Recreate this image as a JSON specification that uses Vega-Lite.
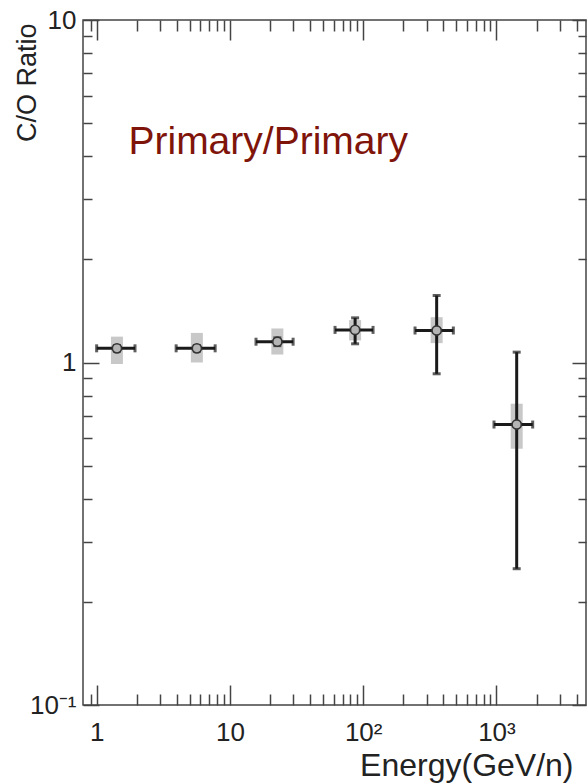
{
  "$schema": "https://vega.github.io/schema/vega-lite/v6.json",
  "width": 503,
  "height": 685,
  "autosize": "none",
  "padding": {"left": 83, "top": 20, "right": 2, "bottom": 79},
  "config": {
    "font": "Liberation Sans",
    "view": {"stroke": "#444444", "strokeWidth": 1.5},
    "axis": {"grid": false, "domain": false, "tickColor": "#444444", "tickWidth": 1.5, "labelColor": "#222222", "titleColor": "#222222", "labelFontSize": 26, "titleFontSize": 30, "titleFontWeight": "normal"}
  },
  "data": {"values": [
    {"E": 1.42, "R": 1.10, "Elo": 1.0, "Ehi": 1.94, "Rlo": 1.08, "Rhi": 1.12, "Slo": 0.99, "Shi": 1.19},
    {"E": 5.65, "R": 1.10, "Elo": 3.95, "Ehi": 7.75, "Rlo": 1.08, "Rhi": 1.12, "Slo": 1.0, "Shi": 1.22},
    {"E": 22.7, "R": 1.15, "Elo": 15.7, "Ehi": 29.8, "Rlo": 1.12, "Rhi": 1.18, "Slo": 1.055, "Shi": 1.257},
    {"E": 87, "R": 1.245, "Elo": 61.5, "Ehi": 118.6, "Rlo": 1.134, "Rhi": 1.35, "Slo": 1.16, "Shi": 1.33},
    {"E": 356, "R": 1.24, "Elo": 245, "Ehi": 475, "Rlo": 0.927, "Rhi": 1.569, "Slo": 1.139, "Shi": 1.356},
    {"E": 1419, "R": 0.659, "Elo": 959, "Ehi": 1871, "Rlo": 0.25, "Rhi": 1.072, "Slo": 0.56, "Shi": 0.758}
  ]},
  "layer": [
    {
      "mark": {"type": "rule", "strokeWidth": 12, "color": "#c8c8c8"},
      "encoding": {
        "x": {"field": "E", "type": "quantitative", "scale": {"type": "log", "domain": [0.79, 4700], "nice": false},
          "axis": {"orient": "bottom", "values": [1, 10, 100, 1000], "ticks": false, "labelPadding": 14,
            "labelExpr": "datum.value < 5 ? '1' : datum.value < 50 ? '10' : datum.value < 500 ? '10²' : '10³'",
            "title": "Energy(GeV/n)", "titleFontSize": 32, "titleX": 490, "titleY": 70, "titleAlign": "right", "titleBaseline": "alphabetic"}},
        "y": {"field": "Slo", "type": "quantitative", "scale": {"type": "log", "domain": [0.1, 10], "nice": false},
          "axis": {"orient": "left", "values": [0.1, 1, 10], "ticks": false, "labelPadding": 7,
            "labelExpr": "datum.value < 0.5 ? '10⁻¹' : datum.value < 5 ? '1' : '10'",
            "title": "C/O Ratio", "titleFontSize": 27, "titleX": -48, "titleY": 3, "titleAngle": -90, "titleAlign": "right", "titleBaseline": "alphabetic"}},
        "y2": {"field": "Shi"}
      }
    },
    {
      "mark": {"type": "rule", "strokeWidth": 3, "color": "#1a1a1a"},
      "encoding": {
        "x": {"field": "E", "type": "quantitative", "scale": {"type": "log", "domain": [0.79, 4700], "nice": false},
          "axis": {"orient": "bottom", "values": [1, 10, 100, 1000], "tickSize": -20, "labels": false, "title": null}},
        "y": {"field": "Rlo", "type": "quantitative", "scale": {"type": "log", "domain": [0.1, 10], "nice": false},
          "axis": {"orient": "left", "values": [0.1, 1, 10], "tickSize": -16, "labels": false, "title": null}},
        "y2": {"field": "Rhi"}
      }
    },
    {
      "mark": {"type": "rule", "strokeWidth": 3, "color": "#1a1a1a"},
      "encoding": {
        "x": {"field": "Elo", "type": "quantitative", "scale": {"type": "log", "domain": [0.79, 4700], "nice": false},
          "axis": {"orient": "bottom", "values": [0.9, 2, 3, 4, 5, 6, 7, 8, 9, 20, 30, 40, 50, 60, 70, 80, 90, 200, 300, 400, 500, 600, 700, 800, 900, 2000, 3000, 4000], "tickSize": -11, "labels": false, "title": null}},
        "x2": {"field": "Ehi"},
        "y": {"field": "R", "type": "quantitative", "scale": {"type": "log", "domain": [0.1, 10], "nice": false},
          "axis": {"orient": "left", "values": [0.2, 0.3, 0.4, 0.5, 0.6, 0.7, 0.8, 0.9, 2, 3, 4, 5, 6, 7, 8, 9], "tickSize": -9, "labels": false, "title": null}}
      }
    },
    {
      "mark": {"type": "tick", "orient": "horizontal", "size": 8, "thickness": 3, "color": "#1a1a1a"},
      "encoding": {
        "x": {"field": "E", "type": "quantitative", "scale": {"type": "log", "domain": [0.79, 4700], "nice": false},
          "axis": {"orient": "top", "values": [1, 10, 100, 1000], "tickSize": -20, "labels": false, "title": null}},
        "y": {"field": "Rlo", "type": "quantitative", "scale": {"type": "log", "domain": [0.1, 10], "nice": false},
          "axis": {"orient": "right", "values": [0.1, 1, 10], "tickSize": -14, "labels": false, "title": null}}
      }
    },
    {
      "mark": {"type": "tick", "orient": "horizontal", "size": 8, "thickness": 3, "color": "#1a1a1a"},
      "encoding": {
        "x": {"field": "E", "type": "quantitative", "scale": {"type": "log", "domain": [0.79, 4700], "nice": false},
          "axis": {"orient": "top", "values": [0.9, 2, 3, 4, 5, 6, 7, 8, 9, 20, 30, 40, 50, 60, 70, 80, 90, 200, 300, 400, 500, 600, 700, 800, 900, 2000, 3000, 4000], "tickSize": -11, "labels": false, "title": null}},
        "y": {"field": "Rhi", "type": "quantitative", "scale": {"type": "log", "domain": [0.1, 10], "nice": false},
          "axis": {"orient": "right", "values": [0.2, 0.3, 0.4, 0.5, 0.6, 0.7, 0.8, 0.9, 2, 3, 4, 5, 6, 7, 8, 9], "tickSize": -8, "labels": false, "title": null}}
      }
    },
    {
      "mark": {"type": "tick", "orient": "vertical", "size": 8, "thickness": 3, "color": "#1a1a1a"},
      "encoding": {
        "x": {"field": "Elo", "type": "quantitative", "scale": {"type": "log", "domain": [0.79, 4700], "nice": false}, "axis": null},
        "y": {"field": "R", "type": "quantitative", "scale": {"type": "log", "domain": [0.1, 10], "nice": false}, "axis": null}
      }
    },
    {
      "mark": {"type": "tick", "orient": "vertical", "size": 8, "thickness": 3, "color": "#1a1a1a"},
      "encoding": {
        "x": {"field": "Ehi", "type": "quantitative", "scale": {"type": "log", "domain": [0.79, 4700], "nice": false}, "axis": null},
        "y": {"field": "R", "type": "quantitative", "scale": {"type": "log", "domain": [0.1, 10], "nice": false}, "axis": null}
      }
    },
    {
      "mark": {"type": "point", "shape": "circle", "filled": true, "size": 85, "fill": "#b4b4b4", "stroke": "#333333", "strokeWidth": 1.6, "opacity": 1},
      "encoding": {
        "x": {"field": "E", "type": "quantitative", "scale": {"type": "log", "domain": [0.79, 4700], "nice": false}, "axis": null},
        "y": {"field": "R", "type": "quantitative", "scale": {"type": "log", "domain": [0.1, 10], "nice": false}, "axis": null}
      }
    },
    {
      "data": {"values": [{"E": 1.733, "R": 4.07, "label": "Primary/Primary"}]},
      "mark": {"type": "text", "align": "left", "baseline": "alphabetic", "fontSize": 39, "color": "#7f140a"},
      "encoding": {
        "x": {"field": "E", "type": "quantitative", "scale": {"type": "log", "domain": [0.79, 4700], "nice": false}, "axis": null},
        "y": {"field": "R", "type": "quantitative", "scale": {"type": "log", "domain": [0.1, 10], "nice": false}, "axis": null},
        "text": {"field": "label"}
      }
    }
  ],
  "resolve": {"axis": {"x": "independent", "y": "independent"}}
}
